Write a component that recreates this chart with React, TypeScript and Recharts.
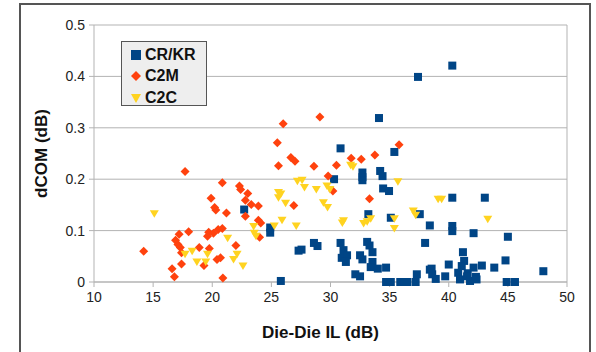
import { ScatterChart, Scatter, XAxis, YAxis, CartesianGrid, ReferenceLine, Legend, Label } from 'recharts'

// Die-Die IL (dB) vs dCOM (dB)
const crkr = [
	[40.3, 0.421], [37.4, 0.399], [34.1, 0.319],
	[30.85, 0.26], [35.4, 0.253],
	[30.3, 0.2], [32.7, 0.213], [32.7, 0.204], [32.7, 0.198],
	[34.2, 0.216], [34.4, 0.206], [34.45, 0.182], [34.95, 0.177],
	[22.7, 0.141],
	[33.2, 0.132], [35.1, 0.125], [37.55, 0.132], [38.4, 0.11],
	[40.3, 0.164], [43.05, 0.164], [40.3, 0.109], [40.3, 0.099], [42.1, 0.095], [45.0, 0.088],
	[24.9, 0.106], [24.9, 0.096],
	[27.3, 0.061], [27.55, 0.063], [28.6, 0.076], [28.9, 0.07],
	[25.8, 0.002],
	[30.85, 0.076], [38.0, 0.076],
	[31.1, 0.062], [30.95, 0.047], [31.4, 0.052], [31.3, 0.039],
	[33.1, 0.078], [33.3, 0.071], [33.55, 0.058],
	[32.5, 0.052], [32.7, 0.044],
	[33.55, 0.039], [33.4, 0.029], [34.0, 0.026], [34.7, 0.028],
	[32.1, 0.015], [32.5, 0.011],
	[34.7, 0], [35.1, 0], [35.9, 0], [36.3, 0], [36.5, 0], [37.2, 0], [37.3, 0.015],
	[38.4, 0.024], [38.6, 0.015], [38.9, 0.006],
	[41.2, 0.058], [41.3, 0.041], [41.1, 0.031], [40.0, 0.034], [42.8, 0.032], [43.85, 0.028], [44.8, 0.042], [48.0, 0.021],
	[38.55, 0.026], [39.7, 0.011], [40.8, 0.018], [40.95, 0.005], [41.6, 0.017], [41.55, 0.011], [41.8, 0.002],
	[42.1, 0.028], [42.3, 0.01], [42.35, 0.005], [44.9, 0], [45.6, 0],
]

const c2m = [
	[17.7, 0.215], [20.85, 0.193], [22.3, 0.187], [22.4, 0.18], [19.9, 0.163], [20.2, 0.145], [20.3, 0.14], [21.2, 0.134],
	[18.0, 0.098], [17.2, 0.093], [16.9, 0.081], [17.1, 0.073], [17.3, 0.067], [17.4, 0.057], [14.2, 0.06],
	[16.6, 0.026], [16.8, 0.01], [17.4, 0.035],
	[18.9, 0.067], [19.7, 0.097], [19.6, 0.089], [20.1, 0.095], [20.5, 0.102], [20.85, 0.104], [19.75, 0.065],
	[19.3, 0.032], [20.4, 0.044], [20.7, 0.047], [20.9, 0.008], [22.0, 0.071],
	[29.1, 0.321], [26.0, 0.308], [25.5, 0.271], [26.65, 0.242], [27.0, 0.235], [25.6, 0.226], [28.6, 0.225],
	[30.5, 0.227], [29.8, 0.206], [30.2, 0.177],
	[23.0, 0.172], [22.8, 0.159], [23.3, 0.151], [23.9, 0.148], [22.8, 0.128], [26.9, 0.149], [23.9, 0.12],
	[24.1, 0.115], [24.0, 0.087],
	[35.8, 0.267], [33.75, 0.247], [32.6, 0.239], [31.75, 0.241], [33.3, 0.162],
]

const c2c = [
	[15.1, 0.133], [21.3, 0.085], [18.3, 0.06], [17.7, 0.054], [18.7, 0.039], [19.45, 0.039], [19.6, 0.054],
	[21.8, 0.044], [22.1, 0.054], [22.6, 0.031],
	[23.5, 0.108], [23.55, 0.095], [23.7, 0.089], [25.25, 0.109], [25.9, 0.12], [27.1, 0.109],
	[25.6, 0.174], [25.8, 0.171], [25.6, 0.164], [26.2, 0.153], [27.2, 0.196], [27.6, 0.198], [27.8, 0.184],
	[28.8, 0.18], [29.4, 0.154], [29.75, 0.145], [29.7, 0.187], [29.95, 0.18],
	[31.7, 0.227], [31.9, 0.224], [35.7, 0.195], [39.1, 0.161], [39.4, 0.161],
	[31.1, 0.119], [31.0, 0.115], [32.8, 0.114], [33.1, 0.117], [33.4, 0.123], [35.4, 0.123], [35.4, 0.104],
	[37.0, 0.138], [37.2, 0.13], [43.3, 0.122],
]

const xTicks = [10, 15, 20, 25, 30, 35, 40, 45, 50]
const yTicks = [0, 0.1, 0.2, 0.3, 0.4, 0.5]

const BLUE = '#004586'
const ORANGE = '#ff420e'
const YELLOW = '#ffd320'
const GRID = '#b3b3b3'
const FONT = '"Liberation Sans", Arial, sans-serif'

const toPts = (a: number[][]) => a.map(([x, y]) => ({ x, y }))

const square = (color: string, s = 4) => (p: any) => (
	<rect x={p.cx - s} y={p.cy - s} width={s * 2} height={s * 2} fill={color} />
)
const diamond = (color: string, r = 4.5) => (p: any) => (
	<polygon points={`${p.cx},${p.cy - r} ${p.cx + r},${p.cy} ${p.cx},${p.cy + r} ${p.cx - r},${p.cy}`} fill={color} />
)
const triDown = (color: string, w = 4.5) => (p: any) => (
	<polygon points={`${p.cx - w},${p.cy - 3.5} ${p.cx + w},${p.cy - 3.5} ${p.cx},${p.cy + 4}`} fill={color} />
)

const legendItems = [
	{ name: 'CR/KR', color: BLUE, kind: 'square' },
	{ name: 'C2M', color: ORANGE, kind: 'diamond' },
	{ name: 'C2C', color: YELLOW, kind: 'tri' },
]

function LegendBox() {
	return (
		<div style={{ background: '#eeeeee', border: '1px solid #555', width: 86, height: 65, boxSizing: 'border-box', padding: '2px 0 0 8px', fontFamily: FONT }}>
			{legendItems.map(it => (
				<div key={it.name} style={{ display: 'flex', alignItems: 'center', height: 21.5 }}>
					<svg width={12} height={12} style={{ marginRight: 3 }}>
						{it.kind === 'square' && <rect x={1} y={1} width={10} height={10} fill={it.color} />}
						{it.kind === 'diamond' && <polygon points="6,1 11,6 6,11 1,6" fill={it.color} />}
						{it.kind === 'tri' && <polygon points="1,2 11,2 6,11" fill={it.color} />}
					</svg>
					<span style={{ fontWeight: 'bold', fontSize: 16, color: '#111' }}>{it.name}</span>
				</div>
			))}
		</div>
	)
}

export default function App() {
	return (
		<div style={{ position: 'absolute', left: 0, top: 0, width: 596, height: 352, overflow: 'hidden', background: '#fff', fontFamily: FONT }}>
			<div style={{ position: 'absolute', left: 19, top: 3, width: 568, height: 400, borderTop: '2px solid #555', borderLeft: '2px solid #555', borderRight: '2px solid #555' }} />
			<ScatterChart width={596} height={352} margin={{ top: 25, right: 29, bottom: 10, left: 20 }} style={{ position: 'absolute', left: 0, top: 0 }}>
				<CartesianGrid vertical={false} stroke={GRID} />
				<XAxis
					type="number" dataKey="x" domain={[10, 50]} ticks={xTicks} height={60}
					stroke={GRID} tickSize={5} tickMargin={5}
					tick={{ fill: '#222', fontSize: 14, fontFamily: FONT }}
				>
					<Label value="Die-Die IL (dB)" position="insideBottom" offset={4} dx={-10}
						style={{ fontWeight: 'bold', fontSize: 17, fill: '#111', fontFamily: FONT }} />
				</XAxis>
				<YAxis
					type="number" dataKey="y" domain={[0, 0.5]} ticks={yTicks} width={74}
					stroke={GRID} tickSize={5} tickMargin={4}
					tick={{ fill: '#222', fontSize: 14, fontFamily: FONT }}
					tickFormatter={(v: number) => String(v)}
				>
					<Label value="dCOM (dB)" angle={-90} position="insideLeft" offset={21}
						style={{ fontWeight: 'bold', fontSize: 17, fill: '#111', fontFamily: FONT, textAnchor: 'middle' }} />
				</YAxis>
				<ReferenceLine x={50} stroke={GRID} />
				<Legend layout="horizontal" verticalAlign="middle" align="center"
					wrapperStyle={{ left: 121, top: 41, width: 88, height: 67 }}
					content={() => <LegendBox />} />
				<Scatter name="CR/KR" data={toPts(crkr)} fill={BLUE} shape={square(BLUE)} isAnimationActive={false} />
				<Scatter name="C2M" data={toPts(c2m)} fill={ORANGE} shape={diamond(ORANGE)} isAnimationActive={false} />
				<Scatter name="C2C" data={toPts(c2c)} fill={YELLOW} shape={triDown(YELLOW)} isAnimationActive={false} />
			</ScatterChart>
		</div>
	)
}
